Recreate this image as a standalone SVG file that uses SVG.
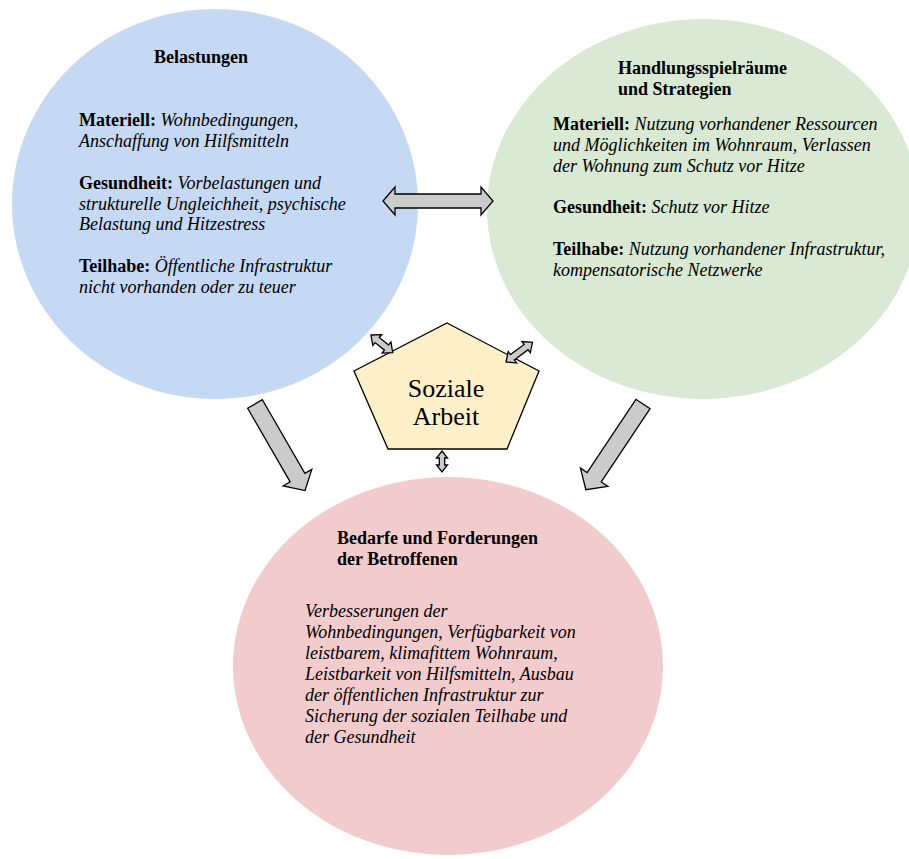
<svg xmlns="http://www.w3.org/2000/svg" width="909" height="859" viewBox="0 0 909 859">
  <style>
    text { font-family: "Liberation Serif", "Times New Roman", serif; font-size: 18px; fill: #000; }
    .b { font-weight: bold; }
    .i { font-style: italic; }
    .big { font-size: 26px; }
    .arrow { fill: #cbcbcb; stroke: #000; stroke-width: 1.3; stroke-linejoin: miter; }
  </style>
  <rect width="909" height="859" fill="#ffffff"/>

  <g id="belastungen">
    <ellipse cx="215" cy="204" rx="203" ry="195" fill="#c6d9f4"/>
    <text x="154" y="63" class="b">Belastungen</text>
    <text x="79" y="126"><tspan class="b">Materiell: </tspan><tspan class="i">Wohnbedingungen,</tspan></text>
    <text x="79" y="147" class="i">Anschaffung von Hilfsmitteln</text>
    <text x="79" y="189"><tspan class="b">Gesundheit: </tspan><tspan class="i">Vorbelastungen und</tspan></text>
    <text x="79" y="210" class="i">strukturelle Ungleichheit, psychische</text>
    <text x="79" y="230" class="i">Belastung und Hitzestress</text>
    <text x="79" y="272"><tspan class="b">Teilhabe: </tspan><tspan class="i">Öffentliche Infrastruktur</tspan></text>
    <text x="79" y="293" class="i">nicht vorhanden oder zu teuer</text>
  </g>

  <g id="handlungsspielraeume">
    <ellipse cx="703" cy="209" rx="216" ry="190" fill="#d9e9d3"/>
    <text x="618" y="74" class="b">Handlungsspielräume</text>
    <text x="618" y="95" class="b">und Strategien</text>
    <text x="553" y="130"><tspan class="b">Materiell: </tspan><tspan class="i">Nutzung vorhandener Ressourcen</tspan></text>
    <text x="553" y="151" class="i">und Möglichkeiten im Wohnraum, Verlassen</text>
    <text x="553" y="172" class="i">der Wohnung zum Schutz vor Hitze</text>
    <text x="553" y="213"><tspan class="b">Gesundheit: </tspan><tspan class="i">Schutz vor Hitze</tspan></text>
    <text x="553" y="255"><tspan class="b">Teilhabe: </tspan><tspan class="i">Nutzung vorhandener Infrastruktur,</tspan></text>
    <text x="553" y="276" class="i">kompensatorische Netzwerke</text>
  </g>

  <g id="bedarfe">
    <ellipse cx="448" cy="666" rx="215" ry="189" fill="#f2cccc"/>
    <text x="337" y="544" class="b">Bedarfe und Forderungen</text>
    <text x="337" y="565" class="b">der Betroffenen</text>
    <text x="305" y="617" class="i">Verbesserungen der</text>
    <text x="305" y="638" class="i">Wohnbedingungen, Verfügbarkeit von</text>
    <text x="305" y="659" class="i">leistbarem, klimafittem Wohnraum,</text>
    <text x="305" y="680" class="i">Leistbarkeit von Hilfsmitteln, Ausbau</text>
    <text x="305" y="701" class="i">der öffentlichen Infrastruktur zur</text>
    <text x="305" y="722" class="i">Sicherung der sozialen Teilhabe und</text>
    <text x="305" y="743" class="i">der Gesundheit</text>
  </g>

  <g id="soziale-arbeit">
    <polygon points="447,323 539,371 507,449 388,449 354,371" fill="#fdf0c9" stroke="#000" stroke-width="1.3"/>
    <text x="446" y="397" class="big" text-anchor="middle">Soziale</text>
    <text x="446" y="425" class="big" text-anchor="middle">Arbeit</text>
  </g>

  <g id="connectors">
    <path class="arrow" transform="translate(383,201)" d="M0,0 L12,-14 L12,-7 L98,-7 L98,-14 L110,0 L98,14 L98,7 L12,7 L12,14 Z"/>
    <path class="arrow" transform="translate(255,404) rotate(60)" d="M0,-8.5 L85,-8.5 L85,-16.5 L100,0 L85,16.5 L85,8.5 L0,8.5 Z"/>
    <path class="arrow" transform="translate(643,404) rotate(123.7)" d="M0,-8.5 L88,-8.5 L88,-16.5 L103,0 L88,16.5 L88,8.5 L0,8.5 Z"/>
    <path class="arrow" transform="translate(371,335) rotate(39)" d="M0,0 L8,-7 L8,-3.3 L20,-3.3 L20,-7 L28,0 L20,7 L20,3.3 L8,3.3 L8,7 Z"/>
    <path class="arrow" transform="translate(506,362) rotate(-36.5)" d="M0,0 L8,-7 L8,-3.3 L25,-3.3 L25,-7 L33,0 L25,7 L25,3.3 L8,3.3 L8,7 Z"/>
    <path class="arrow" transform="translate(442,451) rotate(90)" d="M0,0 L7,-5.5 L7,-2.7 L14,-2.7 L14,-5.5 L21,0 L14,5.5 L14,2.7 L7,2.7 L7,5.5 Z"/>
  </g>
</svg>
